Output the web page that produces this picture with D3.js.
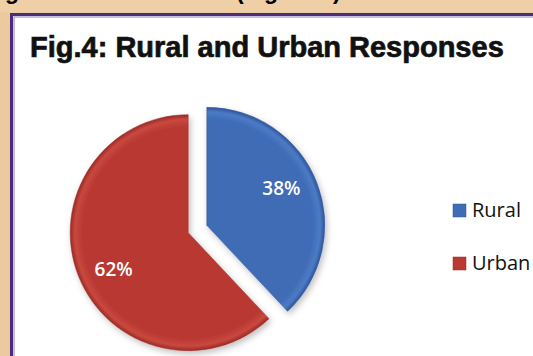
<!DOCTYPE html>
<html>
<head>
<meta charset="utf-8">
<script src="https://cdn.jsdelivr.net/npm/d3@7"></script>
<style>
  html, body { margin: 0; padding: 0; background: #eccaa0; }
  svg { display: block; }
</style>
</head>
<body>
<svg id="chart"></svg>
<script>
// chart values
var categories = ["Rural", "Urban"];
var shares = [38, 62];
var colors = ["#3f6cb5", "#ba3933"];
var lightColors = ["#4c7bc6", "#c9483f"];
var darkColors = ["#2f5499", "#9a2b26"];
var title = "Fig.4: Rural and Urban Responses";

var W = 533, H = 356;
var svg = d3.select("#chart").attr("width", W).attr("height", H);

var defs = svg.append("defs");

// soft shadow under the slices
var f = defs.append("filter").attr("id", "shadow")
    .attr("x", "-20%").attr("y", "-20%").attr("width", "140%").attr("height", "140%");
f.append("feDropShadow").attr("dx", 2).attr("dy", 3)
    .attr("stdDeviation", 3).attr("flood-color", "#000").attr("flood-opacity", 0.25);

// page background (tan) with the cut-off line of text above the box
svg.append("rect").attr("width", W).attr("height", H).attr("fill", "#ecc99f");
svg.append("rect").attr("x", 0).attr("y", 0).attr("width", W).attr("height", 12)
    .attr("fill", "#efcfa6");

svg.append("text").attr("x", 19).attr("y", -1)
    .attr("text-anchor", "end")
    .style("font-family", "'Liberation Sans', Arial, sans-serif")
    .style("font-weight", "bold").style("font-size", "23px")
    .text("g");
svg.append("text").attr("x", 236).attr("y", -1)
    .style("font-family", "'Liberation Sans', Arial, sans-serif")
    .style("font-weight", "bold").style("font-size", "23px")
    .text("(Figure 4)");

// chart box with purple double border, running off right and bottom
svg.append("rect").attr("x", 11.5).attr("y", 14.5).attr("width", W + 20).attr("height", H + 20)
    .attr("fill", "#ffffff").attr("stroke", "#4a2d7c").attr("stroke-width", 3);
svg.append("rect").attr("x", 14).attr("y", 17).attr("width", W + 20).attr("height", H + 20)
    .attr("fill", "none").attr("stroke", "#b4a8d8").attr("stroke-width", 1.5);

// title
var t = svg.append("text").attr("x", 30).attr("y", 57)
    .style("font-family", "'Liberation Sans', Arial, sans-serif")
    .style("font-weight", "bold").style("font-size", "29px")
    .attr("fill", "#111").attr("stroke", "#111").attr("stroke-width", 0.7)
    .text(title);
var tl = t.node().getComputedTextLength();
if (Math.abs(tl - 477) > 4) t.attr("textLength", 477).attr("lengthAdjust", "spacingAndGlyphs");

// pie
var cx = 197.5, cy = 229, R = 118, explode = 10;
var pie = d3.pie().sort(null).value(function (d) { return d; });
var arcs = pie(shares);
var arc = d3.arc().innerRadius(0).outerRadius(R);
var labelArc = d3.arc().innerRadius(R * 0.68).outerRadius(R * 0.68);

arcs.forEach(function (a, i) {
    var g = defs.append("radialGradient").attr("id", "grad" + i)
        .attr("gradientUnits", "userSpaceOnUse")
        .attr("cx", 0).attr("cy", 0).attr("r", R);
    g.append("stop").attr("offset", "0%").attr("stop-color", colors[i]);
    g.append("stop").attr("offset", "90%").attr("stop-color", colors[i]);
    g.append("stop").attr("offset", "96%").attr("stop-color", lightColors[i]);
    g.append("stop").attr("offset", "100%").attr("stop-color", darkColors[i]);
});

var pieG = svg.append("g").attr("transform", "translate(" + cx + "," + cy + ")");

var slices = pieG.selectAll("g.slice")
    .data(arcs)
    .enter()
    .append("g")
    .attr("class", "slice")
    .attr("transform", function (d) {
        var mid = (d.startAngle + d.endAngle) / 2;
        return "translate(" + (Math.sin(mid) * explode) + "," + (-Math.cos(mid) * explode) + ")";
    });

slices.append("path")
    .attr("d", arc)
    .attr("fill", function (d, i) { return "url(#grad" + i + ")"; })
    .attr("stroke", function (d, i) { return darkColors[i]; })
    .attr("stroke-width", 0.5)
    .attr("filter", "url(#shadow)");

slices.append("text")
    .attr("transform", function (d) {
        var c = labelArc.centroid(d);
        return "translate(" + c[0] + "," + c[1] + ")";
    })
    .attr("dy", function (d, i) { return i === 0 ? "-0.05em" : "0.75em"; })
    .attr("text-anchor", "middle")
    .style("font-family", "'Open Sans', 'Noto Sans', sans-serif")
    .style("font-weight", "600").style("font-size", "19px")
    .attr("fill", "#ffffff")
    .text(function (d) { return d.data + "%"; });

// legend
var legend = svg.append("g").attr("transform", "translate(453,204)");
var item = legend.selectAll("g")
    .data(categories)
    .enter()
    .append("g")
    .attr("transform", function (d, i) { return "translate(0," + (i * 53) + ")"; });

item.append("rect")
    .attr("width", 13).attr("height", 13)
    .attr("fill", function (d, i) { return colors[i]; })
    .attr("stroke", function (d, i) { return darkColors[i]; })
    .attr("stroke-width", 0.5);

item.append("text")
    .attr("x", 19).attr("y", 13)
    .style("font-family", "'Open Sans', 'Noto Sans', sans-serif")
    .style("font-size", "20px")
    .attr("fill", "#111")
    .text(function (d) { return d; });
</script>
</body>
</html>
